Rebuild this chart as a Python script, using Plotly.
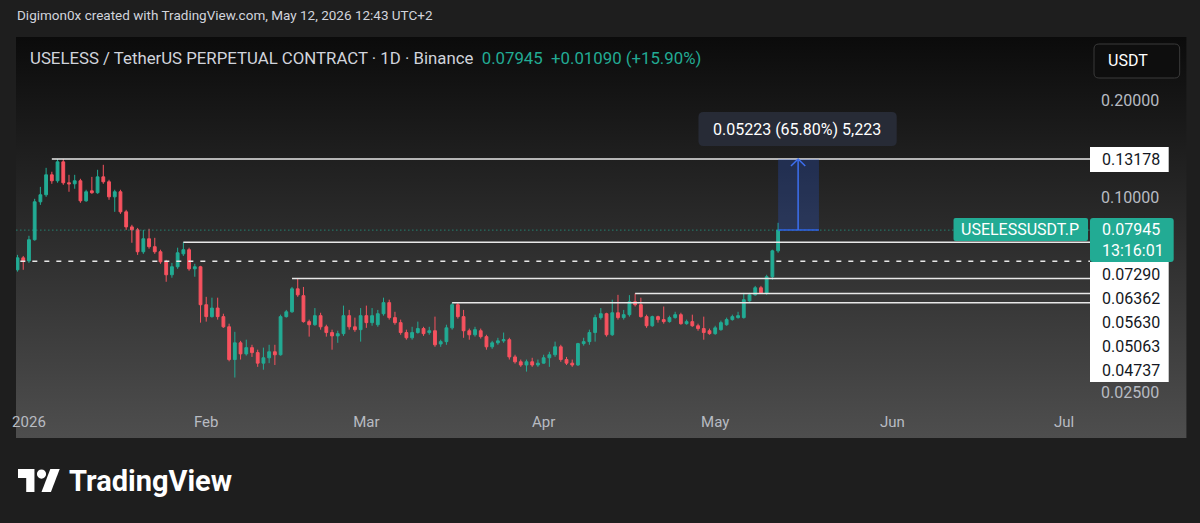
import base64
import pandas as pd
import plotly.graph_objects as go

# ---------------- data ----------------
dates = pd.date_range("2025-12-30", periods=134, freq="D")

open_ = [0.0599, 0.0652, 0.0638, 0.0742, 0.0972, 0.1022, 0.1178, 0.1129, 0.1292, 0.1113,
         0.1105, 0.1129, 0.0979, 0.1051, 0.1037, 0.1161, 0.1121, 0.1007, 0.1044, 0.0905,
         0.0813, 0.0796, 0.0681, 0.0747, 0.0706, 0.0681, 0.0634, 0.0578, 0.0612, 0.0671,
         0.0691, 0.0603, 0.0612, 0.0467, 0.0429, 0.0456, 0.0429, 0.0399, 0.0316, 0.0356,
         0.0329, 0.0344, 0.0332, 0.0308, 0.0320, 0.0334, 0.0327, 0.0429, 0.0444, 0.0523,
         0.0498, 0.0414, 0.0405, 0.0432, 0.0399, 0.0383, 0.0374, 0.0380, 0.0432, 0.0399,
         0.0391, 0.0432, 0.0411, 0.0405, 0.0438, 0.0474, 0.0426, 0.0411, 0.0383, 0.0369,
         0.0383, 0.0394, 0.0383, 0.0388, 0.0353, 0.0359, 0.0396, 0.0467, 0.0429, 0.0388,
         0.0377, 0.0388, 0.0372, 0.0346, 0.0356, 0.0361, 0.0364, 0.0322, 0.0311, 0.0304,
         0.0311, 0.0304, 0.0308, 0.0320, 0.0327, 0.0346, 0.0316, 0.0308, 0.0304, 0.0354,
         0.0359, 0.0383, 0.0426, 0.0438, 0.0377, 0.0441, 0.0426, 0.0435, 0.0477, 0.0467,
         0.0429, 0.0402, 0.0429, 0.0420, 0.0414, 0.0426, 0.0435, 0.0408, 0.0414, 0.0402,
         0.0394, 0.0388, 0.0380, 0.0391, 0.0405, 0.0420, 0.0426, 0.0426, 0.0480, 0.0501,
         0.0527, 0.0508, 0.0570, 0.06855]
high_ = [0.0666, 0.0661, 0.0763, 0.0993, 0.1081, 0.1238, 0.1204, 0.1318, 0.1318, 0.1178,
         0.1178, 0.1145, 0.1059, 0.1161, 0.1221, 0.1265, 0.1137, 0.1059, 0.1059, 0.0918,
         0.0825, 0.0807, 0.0796, 0.0802, 0.0752, 0.0691, 0.0643, 0.0629, 0.0701, 0.0729,
         0.0701, 0.0625, 0.0616, 0.0494, 0.0491, 0.0491, 0.0438, 0.0408, 0.0385, 0.0361,
         0.0364, 0.0351, 0.0339, 0.0344, 0.0351, 0.0351, 0.0435, 0.0450, 0.0530, 0.0563,
         0.0530, 0.0420, 0.0456, 0.0441, 0.0405, 0.0391, 0.0388, 0.0464, 0.0450, 0.0426,
         0.0456, 0.0464, 0.0456, 0.0450, 0.0491, 0.0484, 0.0444, 0.0420, 0.0391, 0.0399,
         0.0414, 0.0399, 0.0399, 0.0429, 0.0364, 0.0405, 0.0474, 0.0474, 0.0450, 0.0394,
         0.0399, 0.0394, 0.0377, 0.0361, 0.0369, 0.0383, 0.0369, 0.0327, 0.0316, 0.0316,
         0.0320, 0.0316, 0.0327, 0.0334, 0.0359, 0.0351, 0.0322, 0.0316, 0.0356, 0.0369,
         0.0391, 0.0435, 0.0456, 0.0441, 0.0484, 0.0501, 0.0450, 0.0500, 0.0506, 0.0491,
         0.0435, 0.0432, 0.0432, 0.0461, 0.0432, 0.0444, 0.0441, 0.0420, 0.0435, 0.0408,
         0.0429, 0.0394, 0.0402, 0.0417, 0.0426, 0.0435, 0.0444, 0.0508, 0.0508, 0.0534,
         0.0534, 0.0578, 0.0691, 0.0837]
low_ = [0.0591, 0.0599, 0.0629, 0.0737, 0.0951, 0.1007, 0.1105, 0.1113, 0.1097, 0.1044,
        0.1067, 0.0965, 0.0972, 0.1029, 0.1029, 0.1105, 0.0986, 0.0905, 0.0892, 0.0796,
        0.0726, 0.0666, 0.0671, 0.0696, 0.0671, 0.0625, 0.0550, 0.0566, 0.0603, 0.0661,
        0.0595, 0.0570, 0.0411, 0.0414, 0.0426, 0.0420, 0.0396, 0.0312, 0.0278, 0.0316,
        0.0325, 0.0322, 0.0300, 0.0294, 0.0308, 0.0304, 0.0325, 0.0426, 0.0441, 0.0494,
        0.0411, 0.0372, 0.0402, 0.0391, 0.0372, 0.0339, 0.0356, 0.0374, 0.0391, 0.0385,
        0.0359, 0.0396, 0.0402, 0.0399, 0.0432, 0.0420, 0.0405, 0.0377, 0.0364, 0.0364,
        0.0380, 0.0374, 0.0377, 0.0346, 0.0346, 0.0351, 0.0391, 0.0423, 0.0369, 0.0364,
        0.0372, 0.0367, 0.0339, 0.0341, 0.0351, 0.0356, 0.0316, 0.0307, 0.0300, 0.0290,
        0.0300, 0.0300, 0.0307, 0.0300, 0.0322, 0.0311, 0.0304, 0.0300, 0.0302, 0.0349,
        0.0351, 0.0359, 0.0420, 0.0372, 0.0374, 0.0420, 0.0420, 0.0429, 0.0461, 0.0426,
        0.0396, 0.0399, 0.0411, 0.0408, 0.0411, 0.0423, 0.0405, 0.0405, 0.0399, 0.0388,
        0.0364, 0.0377, 0.0377, 0.0388, 0.0402, 0.0417, 0.0423, 0.0423, 0.0477, 0.0498,
        0.0505, 0.0501, 0.0558, 0.0676]
close_ = [0.0652, 0.0638, 0.0742, 0.0972, 0.1022, 0.1178, 0.1129, 0.1292, 0.1113, 0.1105,
          0.1129, 0.0979, 0.1044, 0.1037, 0.1161, 0.1121, 0.1007, 0.1044, 0.0905, 0.0813,
          0.0796, 0.0681, 0.0747, 0.0706, 0.0681, 0.0634, 0.0578, 0.0612, 0.0676, 0.0691,
          0.0603, 0.0612, 0.0467, 0.0429, 0.0456, 0.0429, 0.0399, 0.0316, 0.0356, 0.0329,
          0.0344, 0.0332, 0.0308, 0.0320, 0.0334, 0.0327, 0.0429, 0.0444, 0.0523, 0.0501,
          0.0414, 0.0405, 0.0432, 0.0399, 0.0383, 0.0374, 0.0380, 0.0432, 0.0399, 0.0391,
          0.0432, 0.0411, 0.0432, 0.0438, 0.0474, 0.0426, 0.0411, 0.0383, 0.0369, 0.0383,
          0.0394, 0.0380, 0.0388, 0.0351, 0.0359, 0.0396, 0.0467, 0.0429, 0.0388, 0.0377,
          0.0391, 0.0372, 0.0346, 0.0356, 0.0361, 0.0364, 0.0322, 0.0311, 0.0304, 0.0311,
          0.0304, 0.0308, 0.0320, 0.0327, 0.0346, 0.0316, 0.0308, 0.0304, 0.0354, 0.0359,
          0.0383, 0.0426, 0.0438, 0.0377, 0.0441, 0.0426, 0.0435, 0.0477, 0.0467, 0.0429,
          0.0402, 0.0429, 0.0420, 0.0414, 0.0426, 0.0435, 0.0408, 0.0414, 0.0402, 0.0394,
          0.0383, 0.0380, 0.0396, 0.0411, 0.0420, 0.0429, 0.0432, 0.0484, 0.0501, 0.0527,
          0.0508, 0.0570, 0.06855, 0.07945]

last_price = 0.07945
measure_low = 0.07945
measure_high = 0.13178

level_values = [0.13178, 0.07290, 0.05630, 0.05063, 0.04737]
level_starts = ["2026-01-05", "2026-01-28", "2026-02-16", "2026-04-17", "2026-03-16"]
dashed_level = 0.06362

axis_tick_vals = [0.2, 0.1, 0.025]
axis_tick_text = ["0.20000", "0.10000", "0.02500"]
month_ticks = ["2026-01-01", "2026-02-01", "2026-03-01", "2026-04-01", "2026-05-01", "2026-06-01", "2026-07-01"]
month_text = ["2026", "Feb", "Mar", "Apr", "May", "Jun", "Jul"]

price_labels = ["0.13178", "0.07290", "0.06362", "0.05630", "0.05063", "0.04737"]

# ---------------- geometry helpers ----------------
L, R, T, B = 12, 1090, 37, 405
W, H = R - L, B - T


def PX(x):
    return (x - L) / W


def PY(y):
    return (B - y) / H


def rrect(x0, y0, x1, y1, r):
    pts = (f"M{PX(x0 + r)},{PY(y0)} L{PX(x1 - r)},{PY(y0)} Q{PX(x1)},{PY(y0)} {PX(x1)},{PY(y0 + r)} "
           f"L{PX(x1)},{PY(y1 - r)} Q{PX(x1)},{PY(y1)} {PX(x1 - r)},{PY(y1)} "
           f"L{PX(x0 + r)},{PY(y1)} Q{PX(x0)},{PY(y1)} {PX(x0)},{PY(y1 - r)} "
           f"L{PX(x0)},{PY(y0 + r)} Q{PX(x0)},{PY(y0)} {PX(x0 + r)},{PY(y0)} Z")
    return pts


UP = "#22ab94"
DOWN = "#f7525f"
ROBOTO = "Roboto, sans-serif"

fig = go.Figure()

# levels
X_END = "2026-07-20"
for v, s in zip(level_values, level_starts):
    fig.add_trace(go.Scatter(x=[s, X_END], y=[v, v], mode="lines",
                             line=dict(color="#e8e8e8", width=1.5), hoverinfo="skip", showlegend=False))
fig.add_trace(go.Scatter(x=["2025-12-20", X_END], y=[dashed_level, dashed_level], mode="lines",
                         line=dict(color="#e8e8e8", width=1.5, dash="5px,7px"), hoverinfo="skip", showlegend=False))
fig.add_trace(go.Scatter(x=["2025-12-20", X_END], y=[last_price, last_price], mode="lines",
                         line=dict(color=UP, width=1, dash="1px,3px"), hoverinfo="skip", showlegend=False))

# measurement box
m0, m1, mm = "2026-05-12 00:00", "2026-05-19 03:30", "2026-05-15 12:00"
fig.add_trace(go.Scatter(x=[m0, m1, m1, m0, m0],
                         y=[measure_low, measure_low, measure_high, measure_high, measure_low],
                         mode="lines", fill="toself", fillcolor="rgba(41,98,255,0.22)",
                         line=dict(width=0), hoverinfo="skip", showlegend=False))
fig.add_trace(go.Scatter(x=[m0, m1], y=[measure_low, measure_low], mode="lines",
                         line=dict(color="#2f63e6", width=1.5), hoverinfo="skip", showlegend=False))
fig.add_trace(go.Scatter(x=[mm, mm], y=[measure_low, measure_high], mode="lines",
                         line=dict(color="#3d6ff0", width=1.5), hoverinfo="skip", showlegend=False))
fig.add_trace(go.Scatter(x=["2026-05-14 06:00", mm, "2026-05-16 18:00"],
                         y=[measure_high / 1.05, measure_high, measure_high / 1.05], mode="lines",
                         line=dict(color="#3d6ff0", width=1.5), hoverinfo="skip", showlegend=False))

# candles
fig.add_trace(go.Candlestick(x=dates, open=open_, high=high_, low=low_, close=close_,
                             increasing=dict(line=dict(color=UP, width=1), fillcolor=UP),
                             decreasing=dict(line=dict(color=DOWN, width=1), fillcolor=DOWN),
                             whiskerwidth=0, hoverinfo="skip", showlegend=False))

# ---------------- background gradient ----------------
svg = ('<svg xmlns="http://www.w3.org/2000/svg" width="100" height="100" viewBox="0 0 100 100" '
       'preserveAspectRatio="none"><defs><linearGradient id="g" x1="0" y1="0" x2="0" y2="1">'
       '<stop offset="0" stop-color="#0b0b0b"/><stop offset="1" stop-color="#4e4e4e"/>'
       '</linearGradient></defs><rect width="100" height="100" fill="url(#g)"/></svg>')
src = "data:image/svg+xml;base64," + base64.b64encode(svg.encode()).decode()

shapes = []
annotations = []

# price axis labels
shapes.append(dict(type="rect", xref="paper", yref="paper", x0=PX(1090), x1=PX(1169), y0=PY(147), y1=PY(172),
                   fillcolor="#ffffff", line=dict(width=0), layer="above"))
shapes.append(dict(type="rect", xref="paper", yref="paper", x0=PX(1090), x1=PX(1169), y0=PY(262), y1=PY(382),
                   fillcolor="#ffffff", line=dict(width=0), layer="above"))
shapes.append(dict(type="path", xref="paper", yref="paper", path=rrect(1090, 218, 1174, 262, 3),
                   fillcolor=UP, line=dict(width=0), layer="above"))
shapes.append(dict(type="path", xref="paper", yref="paper", path=rrect(953, 218, 1088, 241, 2),
                   fillcolor=UP, line=dict(width=0), layer="above"))
shapes.append(dict(type="path", xref="paper", yref="paper", path=rrect(1094, 44, 1180, 78, 5),
                   fillcolor="#0e0e0e", line=dict(color="#3a3a3a", width=1), layer="above"))
shapes.append(dict(type="path", xref="paper", yref="paper", path=rrect(697, 112, 896, 146, 5),
                   fillcolor="#272b36", line=dict(width=0), layer="above"))

label_y = [159.5, 274, 298.5, 322.5, 346.5, 370.5]
for txt, yy in zip(price_labels, label_y):
    annotations.append(dict(text=txt, xref="paper", yref="paper", x=PX(1100), y=PY(yy),
                            xanchor="left", yanchor="middle", showarrow=False,
                            font=dict(family=ROBOTO, size=16, color="#131722")))
annotations.append(dict(text=f"{last_price:.5f}", xref="paper", yref="paper", x=PX(1100), y=PY(230),
                        xanchor="left", yanchor="middle", showarrow=False,
                        font=dict(family=ROBOTO, size=16, color="#ffffff")))
annotations.append(dict(text="13:16:01", xref="paper", yref="paper", x=PX(1100), y=PY(250),
                        xanchor="left", yanchor="middle", showarrow=False,
                        font=dict(family=ROBOTO, size=16, color="#ffffff")))
annotations.append(dict(text="USELESSUSDT.P", xref="paper", yref="paper", x=PX(1020), y=PY(230),
                        xanchor="center", yanchor="middle", showarrow=False,
                        font=dict(family=ROBOTO, size=16, color="#ffffff")))
annotations.append(dict(text="USDT", xref="paper", yref="paper", x=PX(1106), y=PY(61),
                        xanchor="left", yanchor="middle", showarrow=False,
                        font=dict(family=ROBOTO, size=16, color="#ffffff")))
annotations.append(dict(text="0.05223 (65.80%) 5,223", xref="paper", yref="paper", x=PX(796), y=PY(129),
                        xanchor="center", yanchor="middle", showarrow=False,
                        font=dict(family=ROBOTO, size=16, color="#ffffff")))

# header
annotations.append(dict(text="Digimon0x created with TradingView.com, May 12, 2026 12:43 UTC+2",
                        xref="paper", yref="paper", x=PX(11), y=PY(15), xanchor="left", yanchor="middle",
                        showarrow=False, font=dict(family=ROBOTO, size=13.5, color="#d1d4dc")))
annotations.append(dict(text=("USELESS / TetherUS PERPETUAL CONTRACT · 1D · Binance  "
                              f"<span style='color:{UP}'>0.07945  +0.01090 (+15.90%)</span>"),
                        xref="paper", yref="paper", x=PX(24), y=PY(58), xanchor="left", yanchor="middle",
                        showarrow=False, font=dict(family=ROBOTO, size=16.8, color="#d1d4dc")))

# TradingView logo
def lp(u, v):
    return 14 + u * 1.18, 469 + (v - 4) * 1.28


def poly(points):
    s = ""
    for i, (u, v) in enumerate(points):
        X, Y = lp(u, v)
        s += ("M" if i == 0 else "L") + f"{PX(X)},{PY(Y)} "
    return s + "Z"


shapes.append(dict(type="path", xref="paper", yref="paper",
                   path=poly([(0, 4), (14, 4), (14, 22), (7, 22), (7, 11), (0, 11)]),
                   fillcolor="#ffffff", line=dict(width=0)))
shapes.append(dict(type="path", xref="paper", yref="paper",
                   path=poly([(20, 22), (27.5, 4), (35.5, 4), (28, 22)]),
                   fillcolor="#ffffff", line=dict(width=0)))
cx, cy = lp(20, 8)
shapes.append(dict(type="circle", xref="paper", yref="paper", x0=PX(cx - 4.6), x1=PX(cx + 4.6),
                   y0=PY(cy - 4.6), y1=PY(cy + 4.6), fillcolor="#ffffff", line=dict(width=0)))
annotations.append(dict(text="<b>TradingView</b>", xref="paper", yref="paper", x=PX(63), y=PY(481),
                        xanchor="left", yanchor="middle", showarrow=False,
                        font=dict(family=ROBOTO, size=29, color="#ffffff")))

fig.update_layout(
    width=1200, height=523,
    margin=dict(l=L, r=1200 - R, t=T, b=523 - B, pad=0),
    paper_bgcolor="#1e1e1e", plot_bgcolor="rgba(0,0,0,0)",
    showlegend=False,
    images=[dict(source=src, xref="paper", yref="paper", x=PX(12), y=PY(37),
                 sizex=(1187 - 12) / W, sizey=(438 - 37) / H, xanchor="left", yanchor="top",
                 sizing="stretch", layer="below")],
    shapes=shapes,
    annotations=annotations,
    xaxis=dict(type="date", range=["2025-12-29 17:38", "2026-07-05 12:57"],
               rangeslider=dict(visible=False), showgrid=False, zeroline=False, showline=False,
               tickvals=month_ticks, ticktext=month_text, ticks="",
               tickfont=dict(family=ROBOTO, size=15, color="#b8bbc2"), ticklabelstandoff=6),
    yaxis=dict(type="log", range=[-1.6409, -0.5025], side="right", showgrid=False, zeroline=False,
               showline=False, tickvals=axis_tick_vals, ticktext=axis_tick_text, ticks="",
               tickfont=dict(family=ROBOTO, size=16, color="#b8bbc2"), ticklabelstandoff=10),
    hovermode=False,
)

fig.write_html("out.html", config={"displayModeBar": False, "staticPlot": True},
               post_script="document.body.style.margin='0px';document.body.style.overflow='hidden';")
